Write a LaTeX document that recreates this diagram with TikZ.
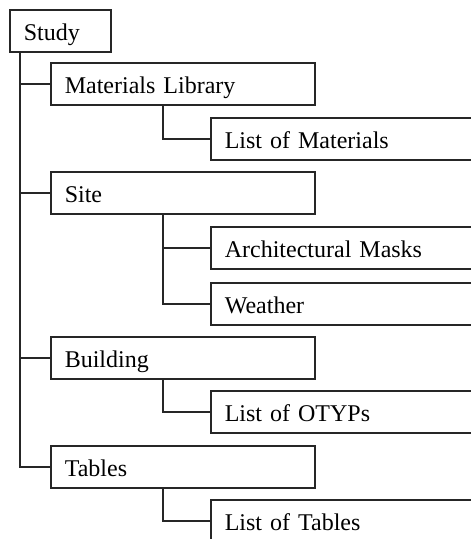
\documentclass[tikz,border=0pt]{standalone}
\usepackage{fontspec}
\setmainfont{Liberation Serif}
\begin{document}
\begin{tikzpicture}[x=1pt,y=-1pt,
  line/.style={draw=black!85, line width=1.6pt},
  box/.style={line, fill=white, rectangle, anchor=north west, inner xsep=14pt, inner ysep=0pt,
    align=left, font=\fontsize{24}{26}\selectfont, minimum height=42pt,
    text height=24pt, text depth=4pt},
  lvlone/.style={box, minimum width=264pt, text width=236pt},
  lvltwo/.style={box, minimum width=270pt, text width=242pt}]
\useasboundingbox (0,0) rectangle (471,539);
\clip (0,0) rectangle (471,539);
\fill[white] (0,0) rectangle (471,539);
\node[box, minimum width=101pt, text width=73pt] (study) at (9,9) {Study};
\node[lvlone] (ml) at (50,62) {Materials Library};
\node[lvltwo] (lom) at (210,117) {List of Materials};
\node[lvlone] (site) at (50,171) {Site};
\node[lvltwo] (am) at (210,226) {Architectural Masks};
\node[lvltwo] (weather) at (210,282) {Weather};
\node[lvlone] (building) at (50,336) {Building};
\node[lvltwo] (otyps) at (210,390) {List of OTYPs};
\node[lvlone] (tables) at (50,445) {Tables};
\node[lvltwo] (lot) at (210,499) {List of Tables};
\coordinate (trunk) at (20,0);
\coordinate (sub) at (163,0);
\draw[line] (trunk |- study.south) |- (tables.west);
\draw[line] (trunk |- ml.west) -- (ml.west);
\draw[line] (trunk |- site.west) -- (site.west);
\draw[line] (trunk |- building.west) -- (building.west);
\draw[line] (sub |- ml.south) |- (lom.west);
\draw[line] (sub |- site.south) |- (weather.west);
\draw[line] (sub |- am.west) -- (am.west);
\draw[line] (sub |- building.south) |- (otyps.west);
\draw[line] (sub |- tables.south) |- (lot.west);
\end{tikzpicture}
\end{document}
